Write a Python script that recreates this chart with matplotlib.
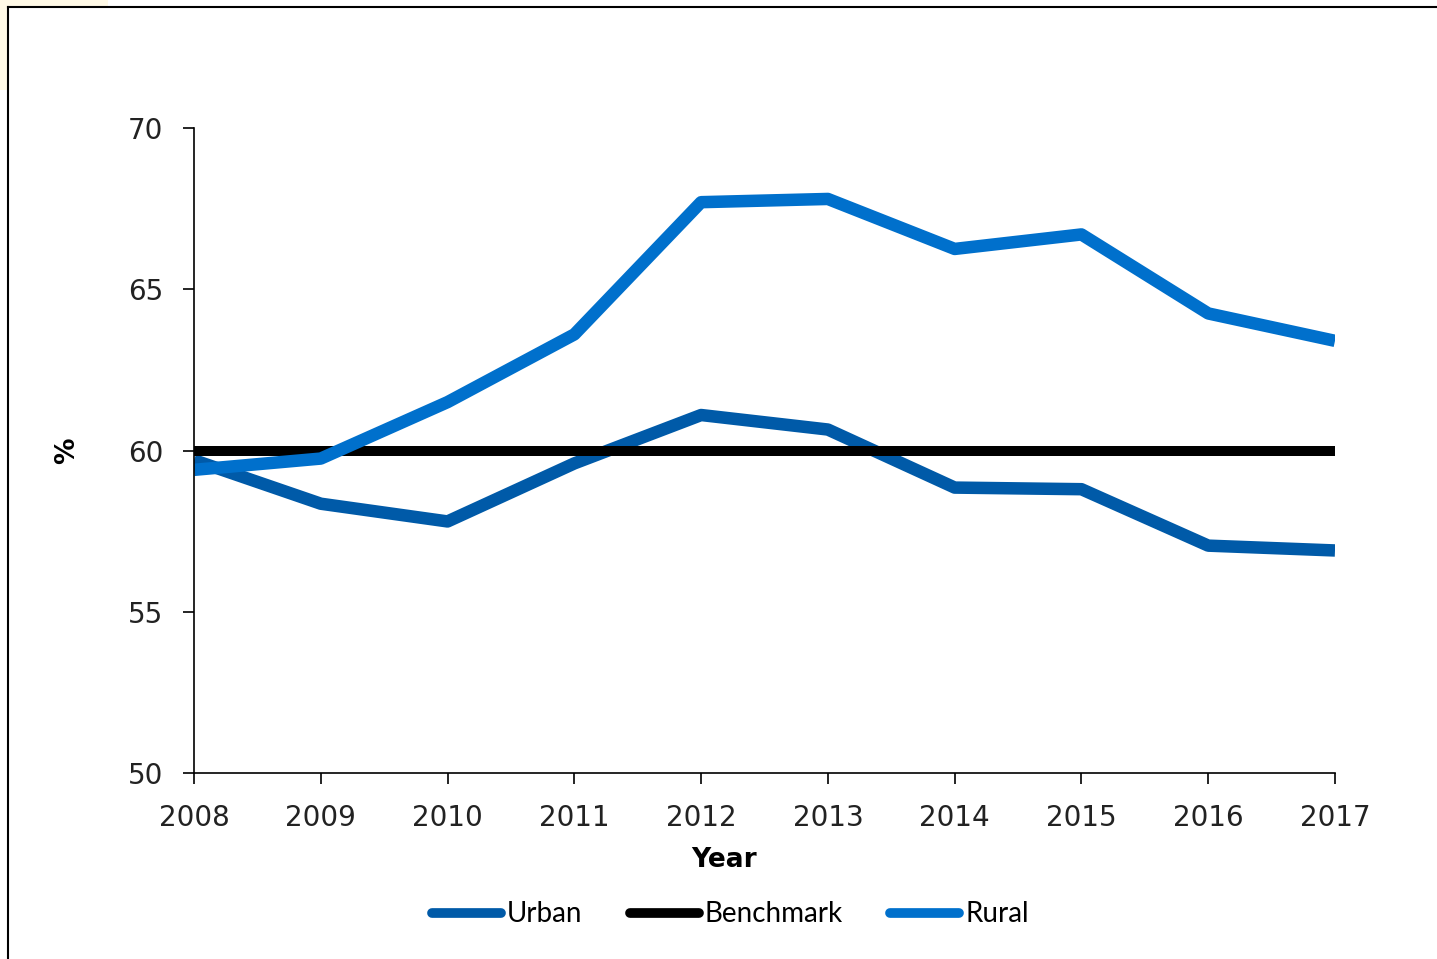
import matplotlib.pyplot as plt
from matplotlib.lines import Line2D
from matplotlib.patches import Rectangle

# Share of respondents by year, urban vs rural, against a fixed benchmark
years = [2008, 2009, 2010, 2011, 2012, 2013, 2014, 2015, 2016, 2017]
urban = [59.7, 58.35, 57.8, 59.6, 61.1, 60.65, 58.85, 58.8, 57.05, 56.9]
rural = [59.4, 59.75, 61.5, 63.6, 67.7, 67.8, 66.25, 66.7, 64.25, 63.4]
benchmark = [60] * len(years)

urban_col = '#005AA8'
rural_col = '#0070CC'

fig = plt.figure(figsize=(14.37, 9.59), dpi=100)
fig.patch.set_facecolor('white')

# faint tint in the corner and the outer frame
fig.add_artist(Rectangle((0, 1 - 90 / 959), 8 / 1437, 90 / 959, transform=fig.transFigure,
                         facecolor='#FFF9E6', edgecolor='none', zorder=0))
fig.add_artist(Rectangle((8 / 1437, 1 - 7 / 959), 100 / 1437, 7 / 959, transform=fig.transFigure,
                         facecolor='#FFF9E6', edgecolor='none', zorder=0))
fig.add_artist(Line2D([8 / 1437, 8 / 1437], [0, 1 - 7 / 959], transform=fig.transFigure,
                      color='black', lw=1.5))
fig.add_artist(Line2D([8 / 1437, 1], [1 - 7 / 959, 1 - 7 / 959], transform=fig.transFigure,
                      color='black', lw=1.5))

ax = fig.add_axes([194 / 1437, 1 - 773 / 959, (1335 - 194) / 1437, (773 - 128) / 959])

lw = 9
ax.plot(years, urban, color=urban_col, lw=lw, label='Urban', solid_capstyle='butt')
ax.plot(years, benchmark, color='black', lw=lw * 0.8, label='Benchmark', solid_capstyle='butt')
ax.plot(years, rural, color=rural_col, lw=lw, label='Rural', solid_capstyle='butt')

ax.set_xlim(2008, 2017)
ax.set_ylim(50, 70)
ax.set_xticks(years)
ax.set_yticks([50, 55, 60, 65, 70])

for s in ['top', 'right']:
    ax.spines[s].set_visible(False)
for s in ['left', 'bottom']:
    ax.spines[s].set_linewidth(1.2)
ax.tick_params(axis='both', direction='out', length=8, width=1.2, labelsize=20,
               colors='black', labelcolor='#222222')
ax.tick_params(axis='x', pad=14)
ax.tick_params(axis='y', pad=14)

ax.set_xlabel('Year', fontsize=19, fontweight='bold')
ax.xaxis.set_label_coords(0.4645, -0.115)
ax.set_ylabel('%', fontsize=19, fontweight='bold')
ax.yaxis.set_label_coords(-0.1, 0.5)

leg = ax.legend(loc='center', bbox_to_anchor=(0.47, -0.219), ncol=3, frameon=False,
                handlelength=2.5, handletextpad=0.2, columnspacing=1.7,
                prop={'family': 'Lato', 'size': 20})
for h in leg.get_lines():
    h.set_solid_capstyle('round')
    h.set_linewidth(7)

fig.savefig('out.png', dpi=100, facecolor='white')
